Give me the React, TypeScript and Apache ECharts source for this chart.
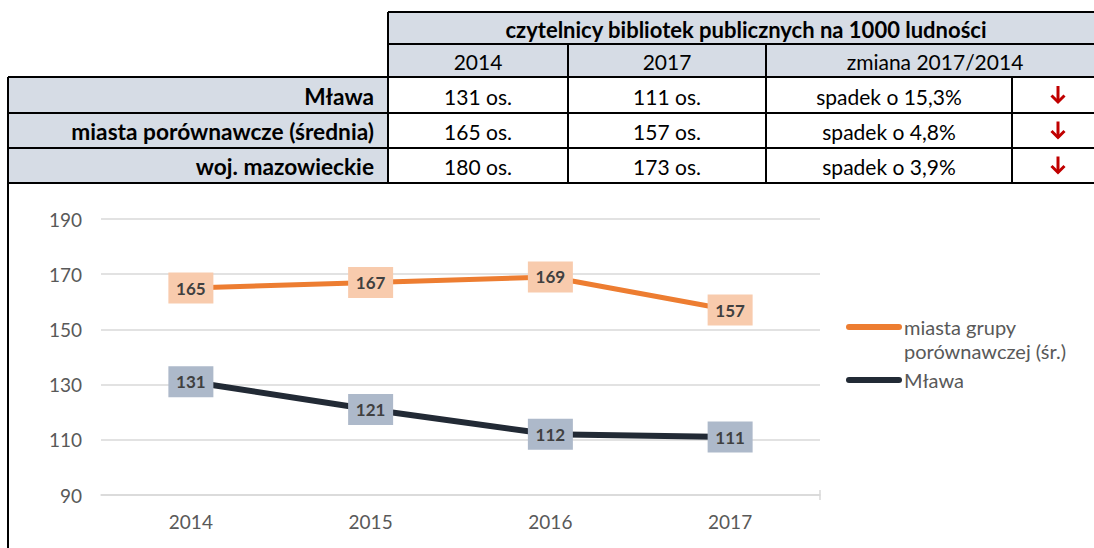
import React, { useEffect, useRef } from "react";
import * as echarts from "echarts";

// ---- chart data ----
const years = ["2014", "2015", "2016", "2017"];
const seriesMiastaName = "miasta grupy porównawczej (śr.)";
const seriesMiasta = [165, 167, 169, 157];
const seriesMlawaName = "Mława";
const seriesMlawa = [131, 121, 112, 111];
const yTicks = { min: 90, max: 190, interval: 20 };

// ---- table data ----
const tableTitle = "czytelnicy bibliotek publicznych na 1000 ludności";
const tableColumns = ["2014", "2017", "zmiana 2017/2014"];
const tableRows = ["Mława", "miasta porównawcze (średnia)", "woj. mazowieckie"];
const values2014 = [131, 165, 180];
const values2017 = [111, 157, 173];
const changes = ["spadek o 15,3%", "spadek o 4,8%", "spadek o 3,9%"];

const FONT = "Lato, 'Noto Sans', sans-serif";

function buildTable(): any[] {
  const els: any[] = [];
  const colX = [8, 388, 568, 766, 1012, 1104];
  const headY = [12, 44, 77];
  const rowY = [77, 113, 148, 183];
  const headBg = "#D6DCE5";
  const lineStyle = { stroke: "#000", lineWidth: 2 };
  const fsB = 22;
  const fs = 21;

  els.push({ type: "rect", shape: { x: colX[1], y: headY[0], width: colX[5] - colX[1], height: headY[2] - headY[0] }, style: { fill: headBg } });
  els.push({ type: "rect", shape: { x: colX[0], y: rowY[0], width: colX[1] - colX[0], height: rowY[3] - rowY[0] }, style: { fill: headBg } });

  els.push({ type: "text", x: (colX[1] + colX[5]) / 2, y: (headY[0] + headY[1]) / 2 + 1, style: { text: tableTitle, font: `bold ${fsB}px ${FONT}`, fill: "#000", align: "center", verticalAlign: "middle" } });
  const headCells = [[colX[1], colX[2]], [colX[2], colX[3]], [colX[3], colX[5]]];
  tableColumns.forEach((c, i) => {
    els.push({ type: "text", x: (headCells[i][0] + headCells[i][1]) / 2, y: (headY[1] + headY[2]) / 2 + 1, style: { text: c, font: `${fs}px ${FONT}`, fill: "#000", align: "center", verticalAlign: "middle" } });
  });
  tableRows.forEach((r, i) => {
    const cy = (rowY[i] + rowY[i + 1]) / 2 + 1;
    els.push({ type: "text", x: colX[1] - 14, y: cy, style: { text: r, font: `bold 22.7px ${FONT}`, fill: "#000", align: "right", verticalAlign: "middle" } });
    els.push({ type: "text", x: (colX[1] + colX[2]) / 2, y: cy, style: { text: `${values2014[i]} os.`, font: `${fs}px ${FONT}`, fill: "#000", align: "center", verticalAlign: "middle" } });
    els.push({ type: "text", x: (colX[2] + colX[3]) / 2, y: cy, style: { text: `${values2017[i]} os.`, font: `${fs}px ${FONT}`, fill: "#000", align: "center", verticalAlign: "middle" } });
    els.push({ type: "text", x: (colX[3] + colX[4]) / 2, y: cy, style: { text: changes[i], font: `${fs}px ${FONT}`, fill: "#000", align: "center", verticalAlign: "middle" } });
    const ax = (colX[4] + colX[5]) / 2;
    const ay = cy - 1;
    els.push({ type: "polyline", shape: { points: [[ax, ay - 9], [ax, ay + 7]] }, style: { stroke: "#C00000", lineWidth: 3, fill: null } });
    els.push({ type: "polyline", shape: { points: [[ax - 6.5, ay + 0.5], [ax, ay + 7], [ax + 6.5, ay + 0.5]] }, style: { stroke: "#C00000", lineWidth: 3, fill: null } });
  });

  const hl = (x1: number, x2: number, y: number) => els.push({ type: "line", shape: { x1, y1: y, x2, y2: y }, style: lineStyle });
  const vl = (x: number, y1: number, y2: number) => els.push({ type: "line", shape: { x1: x, y1, x2: x, y2 }, style: lineStyle });
  hl(colX[1], colX[5], headY[0]);
  hl(colX[1], colX[5], headY[1]);
  rowY.forEach((y) => hl(colX[0], colX[5], y));
  vl(colX[1], headY[0], rowY[3]);
  vl(colX[2], headY[1], rowY[3]);
  vl(colX[3], headY[1], rowY[3]);
  vl(colX[4], rowY[0], rowY[3]);
  vl(colX[0], rowY[0], 560);
  return els;
}

function buildLegend(): any[] {
  const els: any[] = [];
  const items = [
    { color: "#ED7D31", lines: ["miasta grupy", "porównawczej (śr.)"], y: 327 },
    { color: "#222A35", lines: ["Mława"], y: 380 },
  ];
  items.forEach((it) => {
    els.push({ type: "line", shape: { x1: 849, y1: it.y, x2: 899, y2: it.y }, style: { stroke: it.color, lineWidth: 6, lineCap: "round" } });
    it.lines.forEach((t, j) => {
      els.push({ type: "text", x: 904, y: it.y + j * 24, style: { text: t, font: `20px ${FONT}`, fill: "#595959", align: "left", verticalAlign: "middle" } });
    });
  });
  return els;
}

export default function App() {
  const ref = useRef<HTMLDivElement>(null);
  useEffect(() => {
    if (!ref.current) return;
    const chart = echarts.init(ref.current, undefined, { renderer: "svg" });
    const labelStyle = { show: true, position: "inside", fontFamily: FONT, fontWeight: "bold", fontSize: 17, color: "#404040" };
    chart.setOption({
      animation: false,
      backgroundColor: "#fff",
      grid: { left: 101, right: 274, top: 219, bottom: 53 },
      xAxis: {
        type: "category",
        data: years,
        boundaryGap: true,
        axisLine: { lineStyle: { color: "#D9D9D9", width: 1.5 } },
        axisTick: { alignWithLabel: true, length: 5, lineStyle: { color: "#D9D9D9", width: 1.5 } },
        axisLabel: { fontFamily: FONT, fontSize: 19, color: "#595959", margin: 17 },
      },
      yAxis: {
        type: "value",
        min: yTicks.min,
        max: yTicks.max,
        interval: yTicks.interval,
        axisLine: { show: false },
        axisTick: { show: false },
        splitLine: { lineStyle: { color: "#D9D9D9", width: 1.5 } },
        axisLabel: { fontFamily: FONT, fontSize: 19, color: "#595959", margin: 19 },
      },
      series: [
        {
          type: "line",
          name: seriesMiastaName,
          data: seriesMiasta,
          symbol: "rect",
          symbolSize: [45, 31],
          showAllSymbol: true,
          itemStyle: { color: "#F8CBAD" },
          lineStyle: { color: "#ED7D31", width: 5 },
          label: labelStyle,
          emphasis: { disabled: true },
        },
        {
          type: "line",
          name: seriesMlawaName,
          data: seriesMlawa,
          symbol: "rect",
          symbolSize: [45, 31],
          showAllSymbol: true,
          itemStyle: { color: "#ADB9CA" },
          lineStyle: { color: "#222A35", width: 6 },
          label: labelStyle,
          emphasis: { disabled: true },
        },
      ],
      graphic: [
        ...buildTable(),
        ...buildLegend(),
        { type: "line", shape: { x1: 820, y1: 490, x2: 820, y2: 500 }, style: { stroke: "#D9D9D9", lineWidth: 1.5 } },
      ],
    });
    return () => chart.dispose();
  }, []);
  return <div ref={ref} style={{ position: "absolute", left: 0, top: 0, width: 1094, height: 548 }} />;
}
